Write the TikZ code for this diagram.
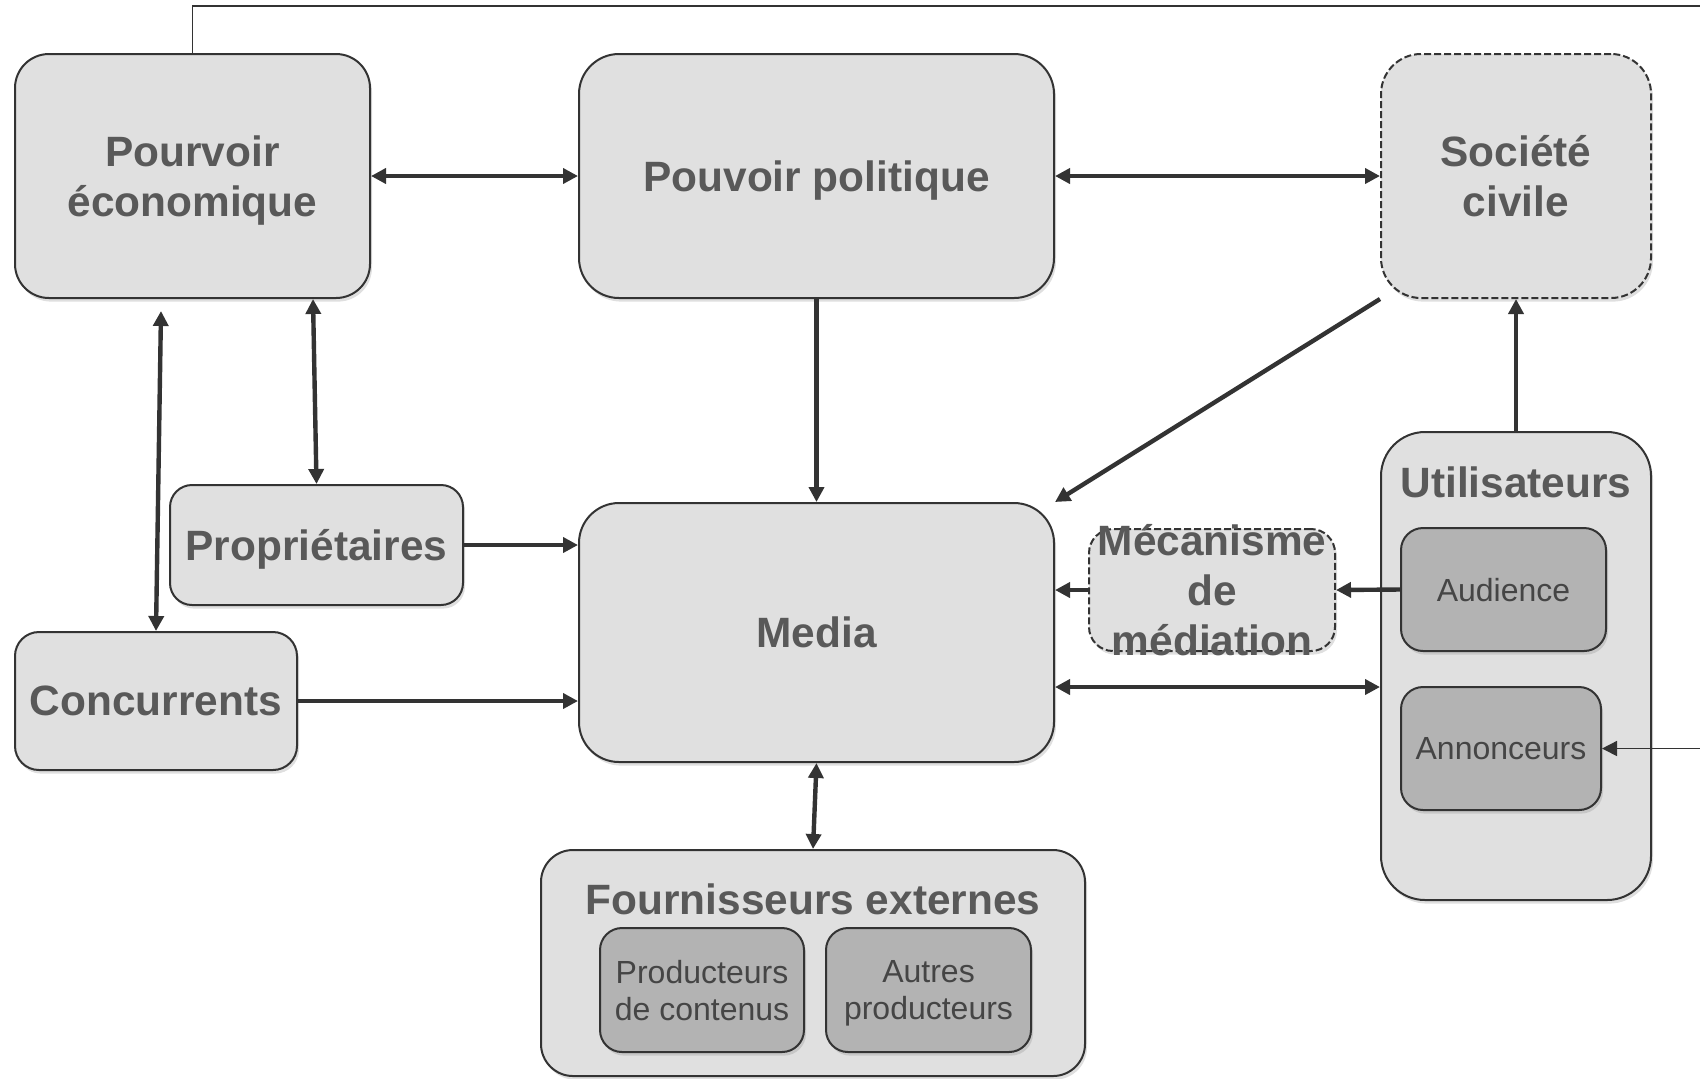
\documentclass[tikz,border=0pt]{standalone}
\usepackage{fontspec}
\setmainfont{Liberation Sans}
\usetikzlibrary{arrows.meta,shadows,calc}
\definecolor{boxfill}{HTML}{E0E0E0}
\definecolor{innerfill}{HTML}{B3B3B3}
\definecolor{edge}{HTML}{333333}
\definecolor{txt}{HTML}{595959}
\definecolor{txtin}{HTML}{454545}
\tikzset{
  base/.style={draw=edge, line width=1pt, fill=boxfill, rounded corners=17pt,
    align=center, text=txt, font=\fontsize{21.2}{25}\selectfont\bfseries, inner sep=0pt,
    text depth=0pt,
    drop shadow={opacity=0.25, shadow xshift=1pt, shadow yshift=-1.8pt}},
  dashbox/.style={base, dash pattern=on 3.5pt off 1.5pt},
  innerbox/.style={base, fill=innerfill, rounded corners=11pt,
    font=\fontsize{16}{18.5}\selectfont, text=txtin},
  lbl/.style={align=center, text=txt, font=\fontsize{21.2}{25}\selectfont\bfseries, inner sep=0pt, text depth=0pt},
  tip/.tip={Triangle[length=7.5pt,width=7.5pt]},
  arr/.style={draw=edge, line width=2.2pt, -tip},
  dbl/.style={draw=edge, line width=2.2pt, tip-tip},
  thinarr/.style={draw=edge, line width=0.8pt, -tip},
}
\begin{document}
\begin{tikzpicture}[x=0.5pt, y=-0.5pt]
\useasboundingbox (0,0) rectangle (1700,1078);

% main boxes
\node[base, minimum width=177.5pt, minimum height=122pt] (pe) at (192.5,176) {Pourvoir\\économique};
\node[base, rounded corners=20pt, minimum width=237.5pt, minimum height=122pt] (pp) at (816.5,176) {Pouvoir politique};
\node[dashbox, rounded corners=20pt, minimum width=135pt, minimum height=122pt] (sc) at (1516,176) {Société\\civile};
\node[base, rounded corners=11pt, minimum width=146.5pt, minimum height=60pt] (prop) at (316.5,545) {Propriétaires};
\node[base, rounded corners=12pt, minimum width=141pt, minimum height=69pt] (conc) at (156,701) {Concurrents};
\node[base, rounded corners=20pt, minimum width=237.5pt, minimum height=129.5pt] (media) at (816.5,632.5) {Media};

% mediation
\node[dashbox, rounded corners=12pt, minimum width=123pt, minimum height=61pt] (mec) at (1212,590) {};
\node[lbl] (mect) at (1212,590) {Mécanisme\\de\\médiation};

% users
\node[base, rounded corners=22pt, minimum width=135pt, minimum height=234pt] (util) at (1516,666) {};
\node[lbl] (utilt) at (1516,482) {Utilisateurs};
\node[innerbox, minimum width=102.5pt, minimum height=61.5pt] (aud) at (1503.5,589.5) {Audience};
\node[innerbox, minimum width=100pt, minimum height=61.5pt] (ann) at (1501,748.5) {Annonceurs};

% suppliers
\node[base, rounded corners=16pt, minimum width=272pt, minimum height=113pt] (four) at (813,963) {};
\node[lbl] (fourt) at (813,899) {Fournisseurs externes};
\node[innerbox, minimum width=102pt, minimum height=62pt] (prodc) at (702,990) {Producteurs\\de contenus};
\node[innerbox, minimum width=102.5pt, minimum height=62pt] (autres) at (928.5,990) {Autres\\producteurs};

% connectors
\draw[dbl] (pe.east) -- (pp.west);
\draw[dbl] (pp.east) -- (sc.west);
\draw[dbl] ($(pe.south)+(120.5,0)$) -- (prop.north);
\draw[dbl] ($(pe.south)+(-31.5,12)$) -- (conc.north);
\draw[arr] (prop.east) -- (media.west |- prop.east);
\draw[arr] (conc.east) -- (media.west |- conc.east);
\draw[arr] (pp.south) -- (media.north);
\draw[arr] (sc.south west) -- (media.north east);
\draw[arr] (util.north) -- (sc.south);
\draw[arr] (aud.west) -- (mec.east);
\draw[arr] (mec.west) -- (media.east |- mec.west);
\coordinate (mu) at ($(media.east)+(0,54.5)$);
\draw[dbl] (mu) -- (util.west |- mu);
\draw[dbl] (media.south) -- (four.north);
\coordinate (tr) at (1712,6);
\draw[thinarr] (pe.north) |- (tr) |- (ann.east);
\end{tikzpicture}
\end{document}
